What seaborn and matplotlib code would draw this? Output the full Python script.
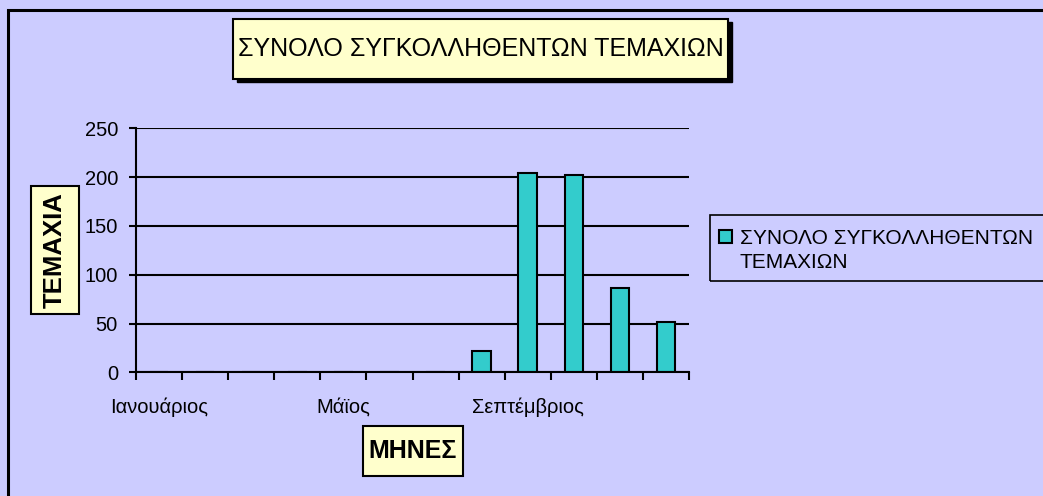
import matplotlib
matplotlib.use("Agg")
import matplotlib.pyplot as plt
from matplotlib.patches import Rectangle
import seaborn as sns
import pandas as pd

# chart data
months = ["Ιανουάριος", "Φεβρουάριος", "Μάρτιος", "Απρίλιος", "Μάϊος", "Ιούνιος",
          "Ιούλιος", "Αύγουστος", "Σεπτέμβριος", "Οκτώβριος", "Νοέμβριος", "Δεκέμβριος"]
pieces = [0, 0, 0, 0, 0, 0, 0, 22, 204, 202, 86, 52]
shown_months = ["Ιανουάριος", "Μάϊος", "Σεπτέμβριος"]
y_ticks = [0, 50, 100, 150, 200, 250]

series_name = "ΣΥΝΟΛΟ ΣΥΓΚΟΛΛΗΘΕΝΤΩΝ ΤΕΜΑΧΙΩΝ"
legend_lines = ["ΣΥΝΟΛΟ ΣΥΓΚΟΛΛΗΘΕΝΤΩΝ", "ΤΕΜΑΧΙΩΝ"]

BG = "#CCCCFF"
BAR = "#33CCCC"
BOX = "#FFFFCC"
W, H = 1043, 496

df = pd.DataFrame({"Μήνας": months, "Τεμάχια": pieces})

sns.set_style("white")
plt.rcParams["font.family"] = ["Liberation Sans", "DejaVu Sans"]
plt.rcParams["text.color"] = "black"
plt.rcParams["xtick.color"] = "black"
plt.rcParams["ytick.color"] = "black"

fig = plt.figure(figsize=(W / 100, H / 100), dpi=100, facecolor=BG)


def fx(px):
    return px / W


def fy(py):
    return 1 - py / H


def box(x0, y0, x1, y1, shadow=False):
    # box in pixel coords of the figure (y from the top)
    if shadow:
        fig.patches.append(Rectangle((fx(x0 + 4), fy(y1 + 3.5)), fx(x1 - x0), fy(y0) - fy(y1),
                                     transform=fig.transFigure, facecolor="black", edgecolor="black"))
    fig.patches.append(Rectangle((fx(x0), fy(y1)), fx(x1 - x0), fy(y0) - fy(y1),
                                 transform=fig.transFigure, facecolor=BOX, edgecolor="black", linewidth=1.5))


ax = fig.add_axes([fx(136), fy(372.3), fx(689) - fx(136), fy(128.3) - fy(372.3)])
ax.set_facecolor(BG)

sns.barplot(data=df, x="Μήνας", y="Τεμάχια", order=months, color=BAR, width=0.4,
            edgecolor="black", linewidth=1.5, saturation=1, ax=ax)

ax.set_xlim(-0.5, len(months) - 0.5)
ax.set_ylim(0, 250)
ax.set_yticks(y_ticks)
ax.set_yticklabels([str(v) for v in y_ticks], fontsize=14.5)
ax.yaxis.grid(True, color="black", linewidth=1.5)
ax.set_axisbelow(True)

# ticks at category edges, labels on every 4th category
ax.set_xticks([i - 0.5 for i in range(len(months) + 1)])
ax.set_xticklabels([])
ax.set_xticks([months.index(m) for m in shown_months], minor=True)
ax.set_xticklabels(shown_months, minor=True, fontsize=14.5)
ax.tick_params(axis="x", which="major", bottom=True, direction="out", length=6, width=1.5)
ax.tick_params(axis="x", which="minor", bottom=True, length=0, pad=18)
ax.tick_params(axis="y", left=True, direction="out", length=5, width=1.5, pad=8)

for side in ["top", "right"]:
    ax.spines[side].set_visible(False)
for side in ["left", "bottom"]:
    ax.spines[side].set_color("black")
    ax.spines[side].set_linewidth(1.5)
ax.set_xlabel("")
ax.set_ylabel("")

# chart border (cropped at right and bottom)
fig.patches.append(Rectangle((fx(8), -0.1), 1.2, fy(10) + 0.1, transform=fig.transFigure,
                             fill=False, edgecolor="black", linewidth=2.2))

# title box with shadow
box(233, 18.5, 728, 79, shadow=True)
fig.text(fx(481), fy(49), series_name, ha="center", va="center", fontsize=18)

# axis titles in boxes
box(31, 186, 79, 314)
fig.text(fx(55), fy(250), "ΤΕΜΑΧΙΑ", rotation=90, ha="center", va="center",
         fontsize=18.5, fontweight="bold")
box(363, 426, 463, 476)
fig.text(fx(413), fy(451), "ΜΗΝΕΣ", ha="center", va="center",
         fontsize=18, fontweight="bold")

# legend
fig.patches.append(Rectangle((fx(710), fy(281)), 0.5, fy(215) - fy(281), transform=fig.transFigure,
                             fill=False, edgecolor="black", linewidth=1.2))
bars = [p for p in ax.patches]
ax.legend([bars[8]], [legend_lines[0]], loc="center left", frameon=False,
          bbox_to_anchor=(fx(719), fy(238)), bbox_transform=fig.transFigure,
          fontsize=15, handlelength=0.6, handleheight=0.6, handletextpad=0.4,
          borderpad=0, borderaxespad=0)
fig.text(fx(739), fy(263), legend_lines[1], ha="left", va="center", fontsize=15)

fig.savefig("out.png", dpi=100, facecolor=BG)
